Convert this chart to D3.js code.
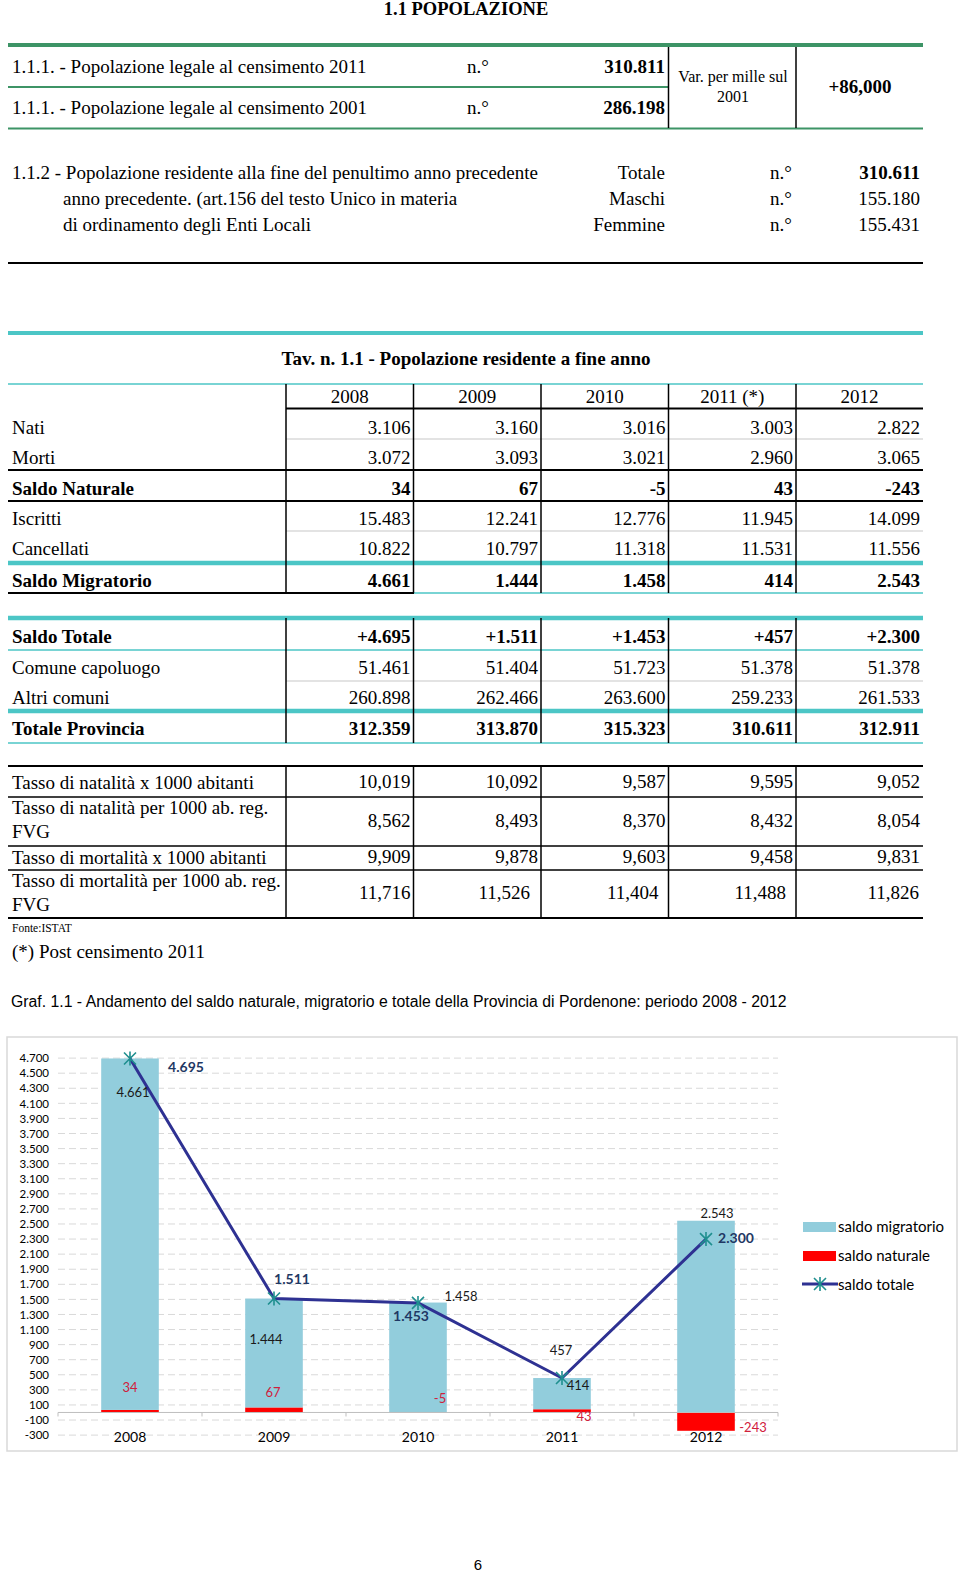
<!DOCTYPE html>
<html>
<head>
<meta charset="utf-8">
<script src="https://cdn.jsdelivr.net/npm/d3@7/dist/d3.min.js"></script>
<style>
  html, body { margin: 0; padding: 0; background: #fff; }
  svg { display: block; }
</style>
</head>
<body>
<script>
// ---------------- DATA ----------------
const censimento2011 = 310811;
const censimento2001 = 286198;
const varPerMille = 86.000;
const residenteTotale = 310611;
const residenteMaschi = 155180;
const residenteFemmine = 155431;

const tableYears = ["2008", "2009", "2010", "2011 (*)", "2012"];
const chartYears = ["2008", "2009", "2010", "2011", "2012"];

const nati = [3106, 3160, 3016, 3003, 2822];
const morti = [3072, 3093, 3021, 2960, 3065];
const saldoNaturale = [34, 67, -5, 43, -243];
const iscritti = [15483, 12241, 12776, 11945, 14099];
const cancellati = [10822, 10797, 11318, 11531, 11556];
const saldoMigratorio = [4661, 1444, 1458, 414, 2543];
const saldoTotale = [4695, 1511, 1453, 457, 2300];
const comuneCapoluogo = [51461, 51404, 51723, 51378, 51378];
const altriComuni = [260898, 262466, 263600, 259233, 261533];
const totaleProvincia = [312359, 313870, 315323, 310611, 312911];
const tassoNatalita = [10.019, 10.092, 9.587, 9.595, 9.052];
const tassoNatalitaFVG = [8.562, 8.493, 8.370, 8.432, 8.054];
const tassoMortalita = [9.909, 9.878, 9.603, 9.458, 9.831];
const tassoMortalitaFVG = [11.716, 11.526, 11.404, 11.488, 11.826];

const yTicks = [4700, 4500, 4300, 4100, 3900, 3700, 3500, 3300, 3100, 2900, 2700, 2500, 2300,
                2100, 1900, 1700, 1500, 1300, 1100, 900, 700, 500, 300, 100, -100, -300];

const legendLabels = ["saldo migratorio", "saldo naturale", "saldo totale"];

// ---------------- SETUP ----------------
const W = 960, H = 1572;
const svg = d3.select("body").append("svg").attr("width", W).attr("height", H);
const loc = d3.formatLocale({decimal: ",", thousands: ".", grouping: [3], currency: ["", ""], minus: "-"});
const fInt = loc.format(",d");
const fSigned = loc.format("+,d");
const fRate = loc.format(",.3f");
const fSignedRate = loc.format("+,.3f");

const SERIF = "'Liberation Serif', 'Times New Roman', serif";
const SANS = "'Liberation Sans', Arial, sans-serif";
const CAL = "Lato, 'Open Sans', sans-serif";
const GREEN = "#3d9466", TEAL = "#4cc6c6", GRAY = "#c8c8c8";

function hline(x1, x2, y, color, w) {
  svg.append("line").attr("x1", x1).attr("x2", x2).attr("y1", y).attr("y2", y)
    .attr("stroke", color).attr("stroke-width", w);
}
function vline(x, y1, y2, color, w) {
  svg.append("line").attr("x1", x).attr("x2", x).attr("y1", y1).attr("y2", y2)
    .attr("stroke", color).attr("stroke-width", w);
}
function text(str, x, y, opts = {}) {
  return svg.append("text").attr("x", x).attr("y", y)
    .attr("font-family", opts.family || SERIF)
    .attr("font-size", opts.size || 19)
    .attr("font-weight", opts.bold ? "bold" : "normal")
    .attr("text-anchor", opts.anchor || "start")
    .attr("fill", opts.fill || "#000")
    .text(str);
}

// ---------------- TITLE & TABLE 1 ----------------
text("1.1 POPOLAZIONE", 466, 15, {bold: true, size: 18.5, anchor: "middle"});

hline(8, 923, 45, GREEN, 4);
hline(8, 668, 87, GREEN, 2);
hline(8, 923, 128.5, GREEN, 2);
vline(668.5, 47, 128, "#000", 1.5);
vline(796, 47, 128, "#000", 1.5);

text("1.1.1. - Popolazione legale al censimento 2011", 12, 73);
text("n.°", 467, 73);
text(fInt(censimento2011), 665, 73, {bold: true, anchor: "end"});
text("1.1.1. - Popolazione legale al censimento 2001", 12, 114);
text("n.°", 467, 114);
text(fInt(censimento2001), 665, 114, {bold: true, anchor: "end"});
text("Var. per mille sul", 733, 82, {size: 16, anchor: "middle"});
text("2001", 733, 102, {size: 16, anchor: "middle"});
text(fSignedRate(varPerMille), 860, 93, {bold: true, anchor: "middle"});

const resRows = [
  ["1.1.2 - Popolazione residente alla fine del penultimo anno precedente", "Totale", residenteTotale, true],
  ["anno precedente. (art.156 del testo Unico in materia", "Maschi", residenteMaschi, false],
  ["di ordinamento degli Enti Locali", "Femmine", residenteFemmine, false]
];
const resY = [179, 205, 231];
resRows.forEach((r, i) => {
  text(r[0], i === 0 ? 12 : 63, resY[i]);
  text(r[1], 665, resY[i], {anchor: "end"});
  text("n.°", 770, resY[i]);
  text(fInt(r[2]), 920, resY[i], {anchor: "end", bold: r[3]});
});
hline(8, 923, 263, "#000", 2);

// ---------------- TABLE 2 ----------------
text("Tav. n. 1.1 - Popolazione residente a fine anno", 466, 365, {bold: true, anchor: "middle"});
const colEdges = [286, 413.5, 541, 668.5, 796, 923];

// horizontal rules
hline(8, 923, 333, TEAL, 4);
hline(8, 923, 384, TEAL, 1.5);
hline(286, 923, 408.5, "#000", 2);
hline(286, 923, 439, GRAY, 1.2);
hline(8, 923, 470, "#000", 2);
hline(8, 923, 501, "#000", 2);
hline(286, 923, 531, GRAY, 1.2);
hline(8, 923, 563, TEAL, 4.5);
hline(8, 414, 593, "#000", 2);
hline(414, 923, 593, TEAL, 1.5);
hline(8, 923, 618, TEAL, 4.5);
hline(8, 923, 650, TEAL, 1.5);
hline(286, 923, 681, GRAY, 1.2);
hline(8, 923, 711, TEAL, 4.5);
hline(8, 923, 743, TEAL, 1.5);
hline(8, 923, 766, "#000", 2);
hline(8, 923, 797, "#000", 1.5);
hline(8, 923, 846, "#000", 1.5);
hline(8, 923, 870, "#000", 1.5);
hline(8, 923, 918, "#000", 2);
// vertical rules
colEdges.slice(0, 5).forEach(x => {
  vline(x, 384, 593, "#000", 1.5);
  vline(x, 618, 743, "#000", 1.5);
  vline(x, 766, 918, "#000", 1.5);
});

// header
tableYears.forEach((y, i) => {
  text(y, (colEdges[i] + colEdges[i + 1]) / 2, 403, {anchor: "middle"});
});

const intRows = [
  {label: "Nati", values: nati, y: 434, fmt: fInt},
  {label: "Morti", values: morti, y: 464, fmt: fInt},
  {label: "Saldo Naturale", values: saldoNaturale, y: 495, fmt: fInt, bold: true},
  {label: "Iscritti", values: iscritti, y: 525, fmt: fInt},
  {label: "Cancellati", values: cancellati, y: 555, fmt: fInt},
  {label: "Saldo Migratorio", values: saldoMigratorio, y: 587, fmt: fInt, bold: true},
  {label: "Saldo Totale", values: saldoTotale, y: 643, fmt: fSigned, bold: true},
  {label: "Comune capoluogo", values: comuneCapoluogo, y: 674, fmt: fInt},
  {label: "Altri comuni", values: altriComuni, y: 704, fmt: fInt},
  {label: "Totale Provincia", values: totaleProvincia, y: 735, fmt: fInt, bold: true}
];
intRows.forEach(r => {
  text(r.label, 12, r.y, {bold: r.bold});
  r.values.forEach((v, i) => text(r.fmt(v), colEdges[i + 1] - 3, r.y, {anchor: "end", bold: r.bold}));
});

const rateRows = [
  {label: ["Tasso di natalità x 1000 abitanti"], ly: [789], values: tassoNatalita, vy: 788, pad: [3, 3, 3, 3, 3]},
  {label: ["Tasso di natalità per 1000 ab. reg.", "FVG"], ly: [814, 838], values: tassoNatalitaFVG, vy: 827, pad: [3, 3, 3, 3, 3]},
  {label: ["Tasso di mortalità x 1000 abitanti"], ly: [864], values: tassoMortalita, vy: 863, pad: [3, 3, 3, 3, 3]},
  {label: ["Tasso di mortalità per 1000 ab. reg.", "FVG"], ly: [887, 911], values: tassoMortalitaFVG, vy: 899, pad: [3, 11, 10, 10, 4]}
];
rateRows.forEach(r => {
  r.label.forEach((l, k) => text(l, 12, r.ly[k]));
  r.values.forEach((v, i) => text(fRate(v), colEdges[i + 1] - r.pad[i], r.vy, {anchor: "end"}));
});

text("Fonte:ISTAT", 12, 932, {size: 11.5});
text("(*) Post censimento 2011", 12, 958);

// ---------------- CHART ----------------
text("Graf. 1.1 - Andamento del saldo naturale, migratorio e totale della Provincia di Pordenone: periodo 2008 - 2012",
  11, 1007, {family: SANS, size: 15.8});

svg.append("rect").attr("x", 7).attr("y", 1037).attr("width", 950).attr("height", 414)
  .attr("fill", "none").attr("stroke", "#d9d9d9").attr("stroke-width", 1.5);

const x = d3.scaleBand().domain(chartYears).range([58, 778]).paddingInner(0.6).paddingOuter(0.3);
const y = d3.scaleLinear().domain([-300, 4700]).range([1435.1, 1058.1]);

// gridlines
const g = svg.append("g");
g.selectAll("line.grid").data(yTicks).join("line").attr("class", "grid")
  .attr("x1", 58).attr("x2", 778)
  .attr("y1", d => y(d)).attr("y2", d => y(d))
  .attr("stroke", "#d9d9d9").attr("stroke-width", 1).attr("stroke-dasharray", "7,4");

// y axis labels via d3 axis
const yAxis = svg.append("g").attr("transform", "translate(58,0)")
  .call(d3.axisLeft(y).tickValues(yTicks).tickFormat(fInt).tickSize(0).tickPadding(9));
yAxis.select(".domain").remove();
yAxis.selectAll("text").attr("font-family", CAL).attr("font-size", 11.5).attr("fill", "#000");

// stacked bars
const rows = chartYears.map((yr, i) => ({year: yr, naturale: saldoNaturale[i], migratorio: saldoMigratorio[i]}));
const stack = d3.stack().keys(["naturale", "migratorio"]).offset(d3.stackOffsetDiverging)(rows);
const colors = {naturale: "#ff0000", migratorio: "#92cddc"};
stack.forEach(layer => {
  svg.append("g").selectAll("rect").data(layer).join("rect")
    .attr("x", d => x(d.data.year))
    .attr("width", x.bandwidth())
    .attr("y", d => y(Math.max(d[0], d[1])))
    .attr("height", d => Math.abs(y(d[0]) - y(d[1])))
    .attr("fill", colors[layer.key]);
});

// zero axis line with ticks at category boundaries
hline(58, 778, y(0), "#bfbfbf", 1);
const bounds = chartYears.map(d => x(d) - x.step() * x.paddingOuter()).concat([778]);
bounds.forEach(bx => vline(bx, y(0), y(0) + 4, "#bfbfbf", 1));

// x labels
const xAxis = svg.append("g").attr("transform", `translate(0,${y(-300)})`)
  .call(d3.axisBottom(x).tickSize(0).tickPadding(3));
xAxis.select(".domain").remove();
xAxis.selectAll("text").attr("font-family", CAL).attr("font-size", 14).attr("fill", "#000")
  .attr("dy", "0.3em");

// total line
const line = d3.line().x((d, i) => x(chartYears[i]) + x.bandwidth() / 2).y(d => y(d));
svg.append("path").datum(saldoTotale).attr("d", line)
  .attr("fill", "none").attr("stroke", "#2e3192").attr("stroke-width", 3).attr("stroke-linejoin", "round");

const starPath = "M-6,-6L6,6M-6,6L6,-6M0,-7L0,7";
svg.append("g").selectAll("path").data(saldoTotale).join("path")
  .attr("transform", (d, i) => `translate(${x(chartYears[i]) + x.bandwidth() / 2},${y(d)})`)
  .attr("d", starPath).attr("stroke", "#1f8f8f").attr("stroke-width", 1.6).attr("fill", "none");

// data labels (offsets from anchors)
const migOffsets = [[3, 39], [-8, 45], [43, -2], [16, 12], [11, -3]];
const natOffsets = [[0, -20], [-1, -15], [22, -9], [22, 9], [47, 20]];
const totOffsets = [[56, 14], [18, -15], [-7, 18], [-1, -23], [30, 4]];
const totBold = [true, true, true, false, true];

stack[1].forEach((d, i) => {
  const cx = x(chartYears[i]) + x.bandwidth() / 2;
  text(fInt(saldoMigratorio[i]), cx + migOffsets[i][0], y(d[1]) + migOffsets[i][1],
    {family: CAL, size: 13, anchor: "middle", fill: "#1a1a1a"});
});
saldoNaturale.forEach((v, i) => {
  const cx = x(chartYears[i]) + x.bandwidth() / 2;
  text(fInt(v), cx + natOffsets[i][0], y(0) + natOffsets[i][1],
    {family: CAL, size: 13, anchor: "middle", fill: "#d0203c"});
});
saldoTotale.forEach((v, i) => {
  const cx = x(chartYears[i]) + x.bandwidth() / 2;
  text(fInt(v), cx + totOffsets[i][0], y(v) + totOffsets[i][1],
    {family: CAL, size: totBold[i] ? 14 : 13, anchor: "middle", bold: totBold[i],
     fill: totBold[i] ? "#1f3864" : "#1a1a1a"});
});

// legend
const lg = svg.append("g").attr("transform", "translate(802,1222)");
lg.append("rect").attr("x", 1).attr("y", 0).attr("width", 33).attr("height", 10).attr("fill", colors.migratorio);
lg.append("rect").attr("x", 1).attr("y", 29).attr("width", 33).attr("height", 10).attr("fill", colors.naturale);
lg.append("line").attr("x1", 0).attr("x2", 36).attr("y1", 62).attr("y2", 62)
  .attr("stroke", "#2e3192").attr("stroke-width", 3);
lg.append("path").attr("transform", "translate(18,62)").attr("d", starPath)
  .attr("stroke", "#1f8f8f").attr("stroke-width", 1.6).attr("fill", "none");
legendLabels.forEach((l, i) => {
  lg.append("text").attr("x", 36).attr("y", 5 + i * 28.7).attr("dy", "0.35em")
    .attr("font-family", CAL).attr("font-size", 15).attr("fill", "#000").text(l);
});

// page number
text("6", 478, 1570, {family: SANS, size: 15, anchor: "middle"});
</script>
</body>
</html>
